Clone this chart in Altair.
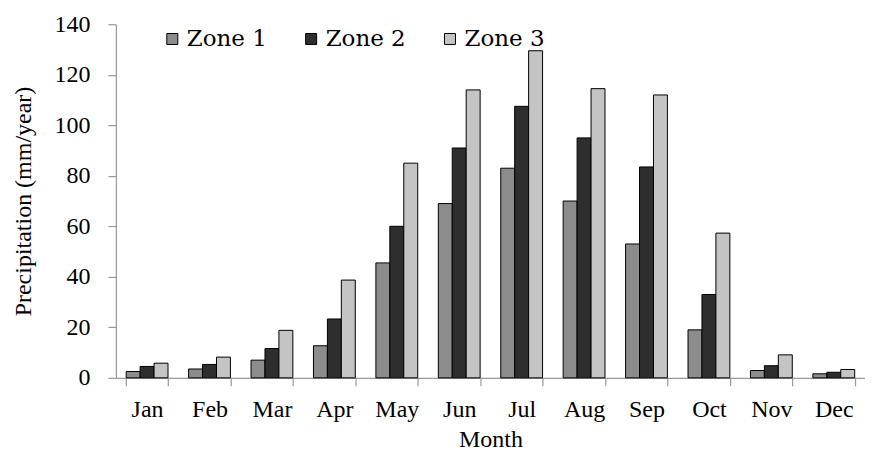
import altair as alt
import pandas as pd

months = ["Jan", "Feb", "Mar", "Apr", "May", "Jun", "Jul", "Aug", "Sep", "Oct", "Nov", "Dec"]
zones = ["Zone 1", "Zone 2", "Zone 3"]
zone1 = [2.5, 3.5, 7.0, 12.7, 45.5, 69.0, 83.0, 70.0, 53.0, 19.0, 2.9, 1.6]
zone2 = [4.5, 5.3, 11.6, 23.3, 60.0, 91.0, 107.5, 95.0, 83.5, 33.0, 4.8, 2.2]
zone3 = [5.8, 8.2, 18.8, 38.7, 85.0, 114.0, 129.5, 114.5, 112.0, 57.3, 9.1, 3.3]
colors = ["#8c8c8c", "#2e2e2e", "#c4c4c4"]

rows = []
for z, vals in zip(zones, [zone1, zone2, zone3]):
    for m, v in zip(months, vals):
        rows.append({"Month": m, "Zone": z, "Value": v})
df = pd.DataFrame(rows)

FONT = "Liberation Serif"

chart = alt.Chart(df).mark_bar(stroke="black", strokeWidth=1).encode(
    x=alt.X("Month:N", sort=months,
            scale=alt.Scale(paddingInner=0.33, paddingOuter=0.165),
            axis=alt.Axis(title="Month", labelAngle=0, tickBand="extent",
                          tickSize=8, labelPadding=12, titlePadding=6)),
    xOffset=alt.XOffset("Zone:N", sort=zones, scale=alt.Scale(paddingInner=0, paddingOuter=0)),
    y=alt.Y("Value:Q", scale=alt.Scale(domain=[0, 140], nice=False),
            axis=alt.Axis(title="Precipitation (mm/year)", values=list(range(0, 141, 20)),
                          tickSize=8, labelPadding=18, titlePadding=18, grid=False)),
    color=alt.Color("Zone:N", sort=zones,
                    scale=alt.Scale(domain=zones, range=colors),
                    legend=alt.Legend(title=None, orient="none", legendX=45, legendY=3,
                                      direction="horizontal", symbolType="square",
                                      symbolSize=121, symbolStrokeColor="black",
                                      symbolStrokeWidth=1, labelFontSize=23,
                                      labelFont="DejaVu Serif", labelColor="black",
                                      labelOffset=3, columnPadding=32, padding=0)),
).properties(
    width=750, height=354,
    padding={"left": 108, "top": 16, "right": 0, "bottom": 85},
    autosize=alt.AutoSizeParams(type="none"),
).configure(
    font=FONT
).configure_view(
    stroke=None
).configure_axis(
    labelFont=FONT, titleFont=FONT, labelFontSize=24, titleFontSize=24,
    labelColor="black", titleColor="black", titleFontWeight="normal",
    domainColor="#999999", tickColor="#999999", domainWidth=1.2, tickWidth=1.2
)

chart.save("out.html", embed_options={"renderer": "svg", "actions": False})
